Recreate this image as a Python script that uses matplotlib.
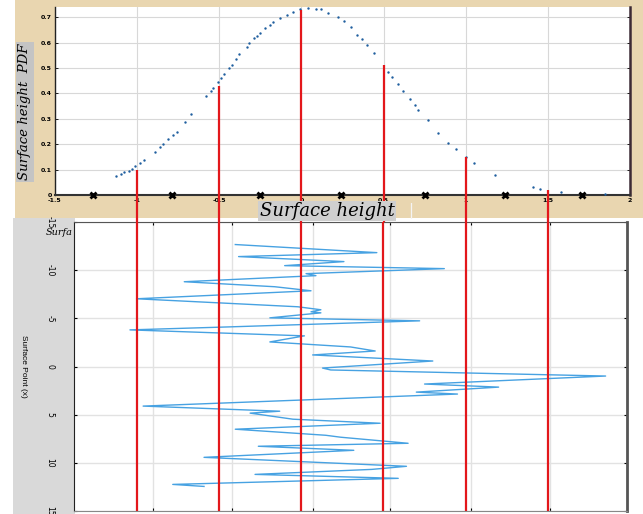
import matplotlib
matplotlib.use("Agg")
import matplotlib.pyplot as plt
from matplotlib.patches import Rectangle

# ---------------- data ----------------
pdf_x = [-1.13, -1.10, -1.08, -1.05, -1.03, -1.01, -0.98, -0.96, -0.89, -0.86, -0.84, -0.81,
         -0.78, -0.76, -0.71, -0.67, -0.58, -0.55, -0.54, -0.51, -0.49, -0.47, -0.44, -0.42,
         -0.40, -0.38, -0.33, -0.32, -0.29, -0.27, -0.25, -0.22, -0.19, -0.17, -0.13, -0.09,
         -0.05, -0.01, 0.04, 0.09, 0.12, 0.16, 0.22, 0.26, 0.30, 0.34, 0.37, 0.40, 0.44,
         0.53, 0.55, 0.59, 0.62, 0.66, 0.69, 0.71, 0.77, 0.83, 0.89, 0.94, 1.00, 1.05,
         1.18, 1.41, 1.45, 1.58, 1.85]
pdf_y = [0.075, 0.083, 0.091, 0.094, 0.102, 0.114, 0.126, 0.138, 0.169, 0.189, 0.201, 0.220,
         0.236, 0.248, 0.287, 0.319, 0.390, 0.409, 0.421, 0.445, 0.461, 0.476, 0.500, 0.512,
         0.535, 0.555, 0.583, 0.598, 0.618, 0.626, 0.638, 0.657, 0.669, 0.681, 0.697, 0.709,
         0.720, 0.732, 0.736, 0.732, 0.732, 0.717, 0.701, 0.685, 0.661, 0.630, 0.614, 0.591, 0.559,
         0.484, 0.465, 0.437, 0.409, 0.378, 0.354, 0.335, 0.295, 0.244, 0.205, 0.181, 0.150, 0.126,
         0.079, 0.031, 0.024, 0.012, 0.004]

red_x = [-1.0, -0.5, 0.0, 0.5, 1.0, 1.5]
red_top = [0.10, 0.43, 0.73, 0.51, 0.15, 0.02]

cross_x = [-1.27, -0.79, -0.25, 0.24, 0.75, 1.24, 1.71]

prof_x = [-0.40, 0.46, -0.38, 0.26, -0.10, 0.87, 0.03, 0.09, -0.71, -0.16, 0.06, -1.00,
          -0.02, 0.12, 0.06, 0.12, -0.19, 0.72, -0.44, -1.04, 0.02, -0.19, 0.30, 0.45,
          0.07, 0.80, 0.13, 0.18, 1.85, 0.75, 1.20, 0.70, 0.95, -0.96, -0.13, -0.31,
          -0.05, 0.48, -0.40, 0.15, 0.24, 0.65, -0.26, 0.32, -0.59, 0.64, 0.43, -0.28,
          0.59, -0.78, -0.59]
prof_y = [-12.66, -11.82, -11.41, -10.89, -10.47, -10.16, -9.64, -9.43, -8.80, -8.28, -7.86, -7.03,
          -6.20, -5.89, -5.68, -5.57, -5.05, -4.74, -4.11, -3.80, -3.18, -2.55, -2.03, -1.61,
          -1.20, -0.57, 0.16, 0.36, 0.99, 1.82, 2.14, 2.66, 2.86, 4.11, 4.64, 4.84,
          5.47, 5.89, 6.51, 7.14, 7.34, 7.97, 8.28, 8.70, 9.43, 10.36, 10.68, 11.20,
          11.61, 12.24, 12.45]

top_xticks = [-1.5, -1, -0.5, 0, 0.5, 1, 1.5, 2]
top_xlabels = ["-1.5", "-1", "-0.5", "0", "0.5", "1", "1.5", "2"]
top_yticks = [0, 0.1, 0.2, 0.3, 0.4, 0.5, 0.6, 0.7]
top_ylabels = ["0", "0.1", "0.2", "0.3", "0.4", "0.5", "0.6", "0.7"]
bot_yticks = [-15, -10, -5, 0, 5, 10, 15]
bot_ylabels = ["-15", "-10", "-5", "0", "5", "10", "15"]
bot_xgrid = [-0.90, -0.42, 0.07, 0.54, 1.03, 1.51]

W, H = 643, 514
fig = plt.figure(figsize=(W / 100, H / 100), dpi=100)
fig.patch.set_facecolor("white")

tan = "#e9d6b0"
fig.patches.append(Rectangle((15 / W, 1 - 218 / H), 1 - 15 / W, 218 / H,
                             transform=fig.transFigure, facecolor=tan, edgecolor="none", zorder=-5))
fig.patches.append(Rectangle((13 / W, 0), (75 - 13) / W, 1 - 218 / H,
                             transform=fig.transFigure, facecolor="#d9d9d9", edgecolor="none", zorder=-5))

red = "#e3171b"

# ---------------- top panel ----------------
ax1 = fig.add_axes([55 / W, 1 - 195 / H, 575 / W, 188 / H])
ax1.set_xlim(-1.5, 2)
ax1.set_ylim(0, 0.74)
ax1.set_xticks(top_xticks)
ax1.set_xticklabels(top_xlabels, fontsize=4.5, fontweight="bold")
ax1.set_yticks(top_yticks)
ax1.set_yticklabels(top_ylabels, fontsize=4.5, fontweight="bold")
ax1.tick_params(axis="both", direction="in", length=2, width=0.6, pad=2)
ax1.tick_params(axis="y", right=True, labelright=False)
ax1.grid(True, color="#d8d8d8", lw=0.8)
ax1.set_axisbelow(True)
ax1.spines["top"].set_visible(False)
ax1.spines["left"].set_color("#222222")
ax1.spines["left"].set_linewidth(1.0)
ax1.spines["bottom"].set_color("#333333")
ax1.spines["bottom"].set_linewidth(1.5)
ax1.spines["right"].set_color("#3c2a35")
ax1.spines["right"].set_linewidth(1.8)

ax1.scatter(pdf_x, pdf_y, s=3, color="#1f5f9f", linewidths=0, zorder=3)
ax1.vlines(red_x, -0.11, red_top, colors=red, lw=1.6, zorder=4, clip_on=False)
ax1.plot(cross_x, [0] * len(cross_x), ls="none", marker="x", ms=4.5, mew=2.0,
         color="black", zorder=5, clip_on=False)

# ---------------- bottom panel ----------------
ax2 = fig.add_axes([74 / W, 1 - 511 / H, 553 / W, 289 / H])
ax2.set_xlim(-1.38, 1.98)
ax2.set_ylim(15, -15)
ax2.set_xticks(bot_xgrid)
ax2.set_xticklabels([])
ax2.set_yticks(bot_yticks)
ax2.set_yticklabels(bot_ylabels, fontsize=5.5, rotation=-90, va="center")
ax2.tick_params(axis="both", direction="in", length=2.5, width=0.8, top=True, right=True)
ax2.tick_params(axis="y", pad=14)
ax2.grid(True, color="#e2e2e2", lw=1.0)
ax2.set_axisbelow(True)
ax2.spines["left"].set_color("#222222")
ax2.spines["top"].set_color("#555555")
ax2.spines["bottom"].set_color("#888888")
ax2.spines["right"].set_color("#555555")
ax2.spines["right"].set_linewidth(2.0)

ax2.plot(prof_x, prof_y, color="#47a2e2", lw=1.0, zorder=2)
for xv in red_x:
    ax2.axvline(xv, color=red, lw=1.6, zorder=3)

# ---------------- labels ----------------
fig.text(25 / W, 1 - 112 / H, "Surface height  PDF", rotation=90, ha="center", va="center",
         fontsize=9.5, family="DejaVu Serif", style="italic",
         bbox=dict(facecolor="#c4c4c4", edgecolor="none", pad=1.5))
fig.text(327 / W, 1 - 211 / H, "Surface height", ha="center", va="center",
         fontsize=13, family="DejaVu Serif", style="italic",
         bbox=dict(facecolor="#cfcfcf", edgecolor="none", pad=0.8))
fig.text(411 / W, 1 - 211 / H, "|", ha="center", va="center",
         fontsize=11, color="#f4f4f4")
fig.text(59 / W, 1 - 233 / H, "Surfa", ha="center", va="center",
         fontsize=7, family="DejaVu Serif", style="italic")
fig.text(23 / W, 1 - 366 / H, "Surface Point (x)", rotation=-90, ha="center", va="center",
         fontsize=6, family="Liberation Sans")

fig.savefig("out.png", dpi=100)
